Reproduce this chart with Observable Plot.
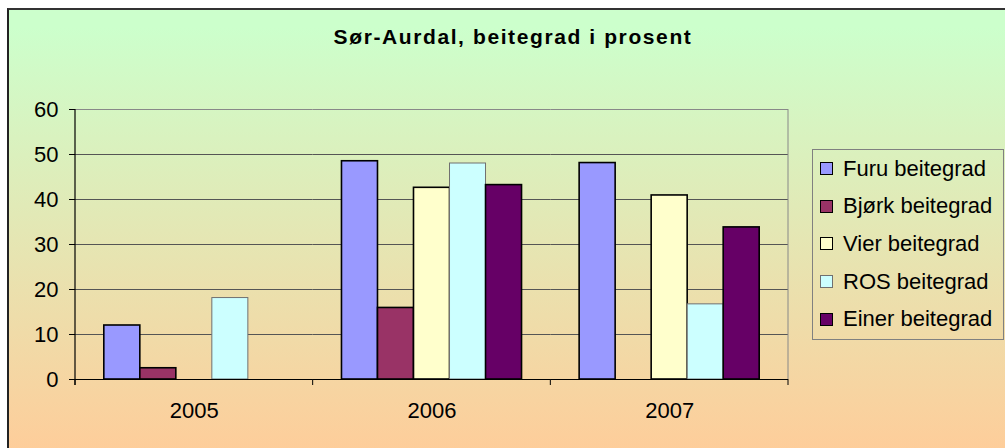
<!DOCTYPE html>
<html><head><meta charset="utf-8">
<script src="https://cdn.jsdelivr.net/npm/d3@7"></script>
<script src="https://cdn.jsdelivr.net/npm/@observablehq/plot@0.6"></script>
<style>
body{margin:0;background:#fff;}
#wrap{position:relative;width:1005px;height:448px;overflow:hidden;font-family:"Liberation Sans",Arial,sans-serif;}
#bg{position:absolute;left:7px;top:8px;width:1010px;height:450px;border-left:2px solid #222;border-top:2px solid #333;background:linear-gradient(to bottom,#ccffcc 0%,#ccffcc 4%,#ffcc99 100%);}
#title{position:absolute;left:0;width:1026px;top:25px;text-align:center;font-weight:bold;font-size:21px;line-height:24px;letter-spacing:1.6px;color:#000;}
#chart{position:absolute;left:0;top:0;}
#legend{position:absolute;left:812px;top:149px;width:190px;height:189px;border:1px solid #808080;}
.row{height:37.6px;display:flex;align-items:center;font-size:22px;color:#000;}
.sw{width:11px;height:11px;border:1px solid #000;margin-left:7px;margin-right:10px;flex:none;}
</style></head>
<body>
<div id="wrap">
  <div id="bg"></div>
  <div id="title">Sør-Aurdal, beitegrad i prosent</div>
  <div id="chart"></div>
  <div id="legend"></div>
</div>
<script>
const years = ["2005", "2006", "2007"];
const series = ["Furu beitegrad", "Bjørk beitegrad", "Vier beitegrad", "ROS beitegrad", "Einer beitegrad"];
const furu  = [12, 48.5, 48.1];
const bjork = [2.5, 15.9, null];
const vier  = [null, 42.6, 40.9];
const ros   = [18.1, 48.0, 16.7];
const einer = [null, 43.2, 33.8];
const fills   = ["#9999ff", "#993366", "#ffffcc", "#ccffff", "#660066"];
const strokes = ["#000000", "#000000", "#000000", "#707070", "#000000"];
const yTicks = [0, 10, 20, 30, 40, 50, 60];

const valueLists = [furu, bjork, vier, ros, einer];
const rows = [];
series.forEach((s, i) => years.forEach((yr, j) => {
  const v = valueLists[i][j];
  if (v != null) rows.push({year: yr, series: s, value: v, stroke: strokes[i]});
}));

const plot = Plot.plot({
  width: 1005, height: 448,
  marginLeft: 75, marginRight: 217, marginTop: 109, marginBottom: 69,
  style: {background: "none", fontFamily: "'Liberation Sans', Arial, sans-serif", fontSize: "22px", color: "#000", overflow: "visible"},
  fx: {domain: years, padding: 0, label: null, round: false},
  x: {domain: series, paddingInner: 0, paddingOuter: 0.8, axis: null, round: false},
  y: {domain: [0, 60], label: null},
  color: {domain: series, range: fills},
  marks: [
    Plot.gridY(yTicks.slice(1, -1), {stroke: "#555", strokeOpacity: 1, strokeWidth: 1}),
    Plot.gridY([60], {stroke: "#888", strokeOpacity: 1, strokeWidth: 1}),
    Plot.barY(rows, {fx: "year", x: "series", y: "value", fill: "series", stroke: "stroke", strokeWidth: d => d.series === "ROS beitegrad" ? 1 : 1.6}),
    Plot.ruleY([0], {stroke: "#000", strokeWidth: 1.2}),
    Plot.axisY(yTicks, {tickSize: 6, tickPadding: 11, fontSize: 22, label: null, stroke: "#000"}),
    Plot.axisFx({anchor: "bottom", tickSize: 0, tickPadding: 23, fontSize: 22, label: null})
  ]
});
document.getElementById("chart").appendChild(plot);

// axis line, category boundary ticks and right plot border, from Plot's scales
const fx = plot.scale("fx"), ys = plot.scale("y");
const svg = d3.select(plot);
const y0 = ys.apply(0), yTop = ys.apply(60);
const g = svg.append("g");
const xLeft = fx.apply(years[0]);
const xRight = fx.apply(years[years.length - 1]) + fx.bandwidth;
g.append("line").attr("x1", xRight).attr("x2", xRight).attr("y1", yTop).attr("y2", y0).attr("stroke", "#888");
g.append("line").attr("x1", xLeft).attr("x2", xLeft).attr("y1", yTop).attr("y2", y0 + 6).attr("stroke", "#000").attr("stroke-width", 1.2);
years.forEach(yr => {
  const x = fx.apply(yr);
  g.append("line").attr("x1", x).attr("x2", x).attr("y1", y0).attr("y2", y0 + 6).attr("stroke", "#000");
});
g.append("line").attr("x1", xRight).attr("x2", xRight).attr("y1", y0).attr("y2", y0 + 6).attr("stroke", "#000");

// legend
const leg = document.getElementById("legend");
series.forEach((s, i) => {
  const r = document.createElement("div");
  r.className = "row";
  const sw = document.createElement("div");
  sw.className = "sw";
  sw.style.background = fills[i];
  if (i === 3) sw.style.borderColor = "#707070";
  const t = document.createElement("span");
  t.textContent = s;
  r.appendChild(sw); r.appendChild(t);
  leg.appendChild(r);
});
</script>
</body></html>
